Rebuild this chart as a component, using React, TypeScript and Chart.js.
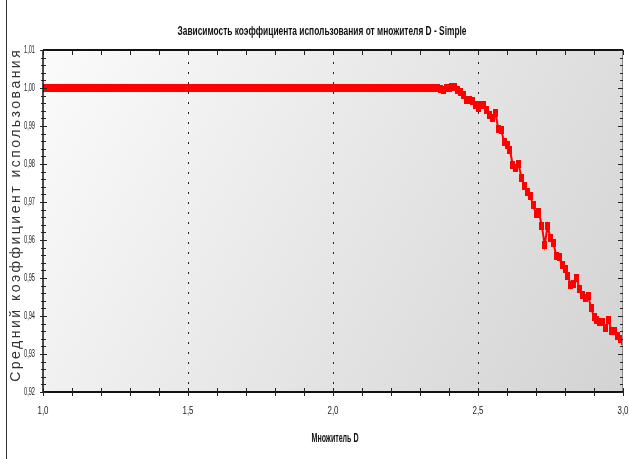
import React, { useEffect, useRef } from "react";
import { Chart, registerables } from "chart.js";

Chart.register(...registerables);

const CHART_TITLE = "Зависимость коэффициента использования от множителя D - Simple";
const X_AXIS_TITLE = "Множитель D";
const Y_AXIS_TITLE = "Средний коэффициент использования";

const X_MIN = 1.0;
const X_MAX = 3.0;
const Y_MIN = 0.92;
const Y_MAX = 1.01;

const X_TICKS = [1.0, 1.5, 2.0, 2.5, 3.0];
const X_TICK_LABELS = ["1,0", "1,5", "2,0", "2,5", "3,0"];
const X_MINOR_TICKS = [1.1, 1.2, 1.3, 1.4, 1.6, 1.7, 1.8, 1.9, 2.1, 2.2, 2.3, 2.4, 2.6, 2.7, 2.8, 2.9];
const X_GRID_LINES = [1.5, 2.0, 2.5];

const Y_TICKS = [0.92, 0.93, 0.94, 0.95, 0.96, 0.97, 0.98, 0.99, 1.0, 1.01];
const Y_TICK_LABELS = ["0,92", "0,93", "0,94", "0,95", "0,96", "0,97", "0,98", "0,99", "1,00", "1,01"];
const Y_MINOR_DIVISIONS = 5;

// Multiplier D, sampled every 0.01 from 1.00 to 3.00
const D_VALUES: number[] = Array.from({ length: 201 }, (_, i) => Math.round(100 + i) / 100);

// Mean utilization coefficient
const UTILIZATION: number[] = [
  1, 1, 1, 1, 1, 1, 1, 1, 1, 1, 1, 1, 1, 1, 1, 1, 1, 1, 1, 1,
  1, 1, 1, 1, 1, 1, 1, 1, 1, 1, 1, 1, 1, 1, 1, 1, 1, 1, 1, 1,
  1, 1, 1, 1, 1, 1, 1, 1, 1, 1, 1, 1, 1, 1, 1, 1, 1, 1, 1, 1,
  1, 1, 1, 1, 1, 1, 1, 1, 1, 1, 1, 1, 1, 1, 1, 1, 1, 1, 1, 1,
  1, 1, 1, 1, 1, 1, 1, 1, 1, 1, 1, 1, 1, 1, 1, 1, 1, 1, 1, 1,
  1, 1, 1, 1, 1, 1, 1, 1, 1, 1, 1, 1, 1, 1, 1, 1, 1, 1, 1, 1,
  1, 1, 1, 1, 1, 1, 1, 1, 1, 1, 1, 1, 1, 1,
  // 2.34 .. 3.00
  1.0, 1.0, 1.0, 0.9998, 0.9996, 1.0, 0.9999, 1.0003, 1.0002, 0.9995,
  0.999, 0.9982, 0.9968, 0.9968, 0.9966, 0.9956, 0.9947, 0.9956, 0.9954, 0.9942,
  0.993, 0.992, 0.9935, 0.9892, 0.989, 0.9858, 0.985, 0.9837, 0.9797, 0.979,
  0.98, 0.9763, 0.9742, 0.9726, 0.9716, 0.9692, 0.9668, 0.9674, 0.9637, 0.9587,
  0.9637, 0.9605, 0.9592, 0.9558, 0.9555, 0.9534, 0.9524, 0.9505, 0.9482, 0.9484,
  0.95, 0.9471, 0.9455, 0.9447, 0.9453, 0.9421, 0.9398, 0.939, 0.9385, 0.9385,
  0.9369, 0.939, 0.9361, 0.9361, 0.9347, 0.934, 0.9334,
];

const SANS = '"Liberation Sans", Arial, sans-serif';

function drawFitted(
  ctx: CanvasRenderingContext2D,
  text: string,
  x: number,
  y: number,
  width: number,
  font: string,
  align: CanvasTextAlign,
  color: string
) {
  ctx.save();
  ctx.font = font;
  const w = ctx.measureText(text).width || 1;
  ctx.translate(x, y);
  ctx.scale(width / w, 1);
  ctx.textAlign = align;
  ctx.textBaseline = "middle";
  ctx.fillStyle = color;
  ctx.fillText(text, 0, 0);
  ctx.restore();
}

const decorPlugin = {
  id: "decor",
  beforeDatasetsDraw(chart: any) {
    const { ctx, chartArea: a, scales } = chart;
    const xs = scales.x;
    ctx.save();
    const g = ctx.createLinearGradient(a.left, a.top, a.right, a.bottom);
    g.addColorStop(0, "#fbfbfb");
    g.addColorStop(1, "#d3d3d3");
    ctx.fillStyle = g;
    ctx.fillRect(a.left, a.top, a.right - a.left, a.bottom - a.top);
    ctx.strokeStyle = "#222";
    ctx.lineWidth = 1;
    ctx.setLineDash([2, 8]);
    for (const v of X_GRID_LINES) {
      const px = Math.round(xs.getPixelForValue(v)) + 0.5;
      ctx.beginPath();
      ctx.moveTo(px, a.top + 2);
      ctx.lineTo(px, a.bottom);
      ctx.stroke();
    }
    ctx.restore();
  },
  afterDatasetsDraw(chart: any) {
    const { ctx, chartArea: a, scales } = chart;
    const xs = scales.x;
    const ys = scales.y;
    ctx.save();
    // page border line on the left
    ctx.strokeStyle = "#333";
    ctx.lineWidth = 1;
    ctx.beginPath();
    ctx.moveTo(6.5, 0);
    ctx.lineTo(6.5, 459);
    ctx.stroke();

    // right axis (thin)
    ctx.strokeStyle = "#8a8a8a";
    ctx.beginPath();
    ctx.moveTo(a.right - 0.5, a.top);
    ctx.lineTo(a.right - 0.5, a.bottom);
    ctx.stroke();

    // left axis
    ctx.strokeStyle = "#111";
    ctx.lineWidth = 1.5;
    ctx.beginPath();
    ctx.moveTo(a.left, a.top);
    ctx.lineTo(a.left, a.bottom);
    ctx.stroke();

    // top & bottom axes
    ctx.lineWidth = 2;
    ctx.beginPath();
    ctx.moveTo(a.left, a.top);
    ctx.lineTo(a.right, a.top);
    ctx.moveTo(a.left, a.bottom);
    ctx.lineTo(a.right, a.bottom);
    ctx.stroke();

    // x ticks
    ctx.lineWidth = 1;
    ctx.strokeStyle = "#222";
    const allX = [...X_TICKS, ...X_MINOR_TICKS];
    for (const v of allX) {
      const px = Math.round(xs.getPixelForValue(v)) + 0.5;
      ctx.beginPath();
      ctx.moveTo(px, a.bottom - 4);
      ctx.lineTo(px, a.bottom + 4);
      ctx.moveTo(px, a.top);
      ctx.lineTo(px, a.top + 5);
      ctx.stroke();
    }

    // y ticks
    for (let i = 0; i < Y_TICKS.length; i++) {
      const py = Math.round(ys.getPixelForValue(Y_TICKS[i])) + 0.5;
      ctx.beginPath();
      ctx.moveTo(a.left - 3, py);
      ctx.lineTo(a.left + 4, py);
      ctx.moveTo(a.right - 5, py);
      ctx.lineTo(a.right, py);
      ctx.stroke();
      if (i < Y_TICKS.length - 1) {
        for (let k = 1; k < Y_MINOR_DIVISIONS; k++) {
          const v = Y_TICKS[i] + ((Y_TICKS[i + 1] - Y_TICKS[i]) * k) / Y_MINOR_DIVISIONS;
          const pm = Math.round(ys.getPixelForValue(v)) + 0.5;
          ctx.beginPath();
          ctx.moveTo(a.left - 2, pm);
          ctx.lineTo(a.left + 3, pm);
          ctx.moveTo(a.right - 3, pm);
          ctx.lineTo(a.right, pm);
          ctx.stroke();
        }
      }
    }

    // tick labels
    for (let i = 0; i < Y_TICKS.length; i++) {
      const py = ys.getPixelForValue(Y_TICKS[i]);
      drawFitted(ctx, Y_TICK_LABELS[i], 35, py, 11, `11px ${SANS}`, "right", "#222");
    }
    for (let i = 0; i < X_TICKS.length; i++) {
      const px = xs.getPixelForValue(X_TICKS[i]);
      drawFitted(ctx, X_TICK_LABELS[i], px, a.bottom + 19, 11, `11px ${SANS}`, "center", "#222");
    }

    // titles
    drawFitted(ctx, CHART_TITLE, 322, 31, 289, `bold 13px ${SANS}`, "center", "#111");
    drawFitted(ctx, X_AXIS_TITLE, 335, 439, 47, `bold 12px ${SANS}`, "center", "#111");

    // rotated, letter-spaced y title
    ctx.save();
    ctx.translate(16, 216);
    ctx.rotate(-Math.PI / 2);
    ctx.font = `14px ${SANS}`;
    const natural = ctx.measureText(Y_AXIS_TITLE).width;
    const target = 334;
    const n = [...Y_AXIS_TITLE].length;
    const spacing = Math.max(0, (target - natural) / n);
    (ctx as any).letterSpacing = `${spacing.toFixed(2)}px`;
    ctx.textAlign = "center";
    ctx.textBaseline = "middle";
    ctx.fillStyle = "#333";
    ctx.fillText(Y_AXIS_TITLE, spacing / 2, 0);
    ctx.restore();

    ctx.restore();
  },
};

export default function App() {
  const canvasRef = useRef<HTMLCanvasElement | null>(null);

  useEffect(() => {
    const canvas = canvasRef.current;
    if (!canvas) return;
    const marker = document.createElement("canvas");
    marker.width = 5;
    marker.height = 8;
    const mctx = marker.getContext("2d");
    if (mctx) {
      mctx.fillStyle = "#ff0000";
      mctx.fillRect(0, 0, 5, 8);
    }
    const chart = new Chart(canvas, {
      type: "line",
      data: {
        datasets: [
          {
            data: D_VALUES.map((x, i) => ({ x, y: UTILIZATION[i] })),
            borderColor: "#ff0000",
            backgroundColor: "#ff0000",
            borderWidth: 2,
            pointStyle: marker as any,
            pointRadius: 4,
            tension: 0,
            fill: false,
          },
        ],
      },
      options: {
        responsive: false,
        animation: false,
        events: [],
        layout: { padding: { left: 43, right: 3, top: 50, bottom: 67 } },
        plugins: {
          legend: { display: false },
          title: { display: false },
          tooltip: { enabled: false },
        },
        scales: {
          x: { type: "linear", min: X_MIN, max: X_MAX, display: false },
          y: { type: "linear", min: Y_MIN, max: Y_MAX, display: false },
        },
      },
      plugins: [decorPlugin],
    });
    return () => chart.destroy();
  }, []);

  return (
    <div style={{ position: "fixed", left: 0, top: 0, width: 629, height: 459, background: "#fff" }}>
      <canvas ref={canvasRef} width={629} height={459} style={{ display: "block", width: 629, height: 459 }} />
    </div>
  );
}
